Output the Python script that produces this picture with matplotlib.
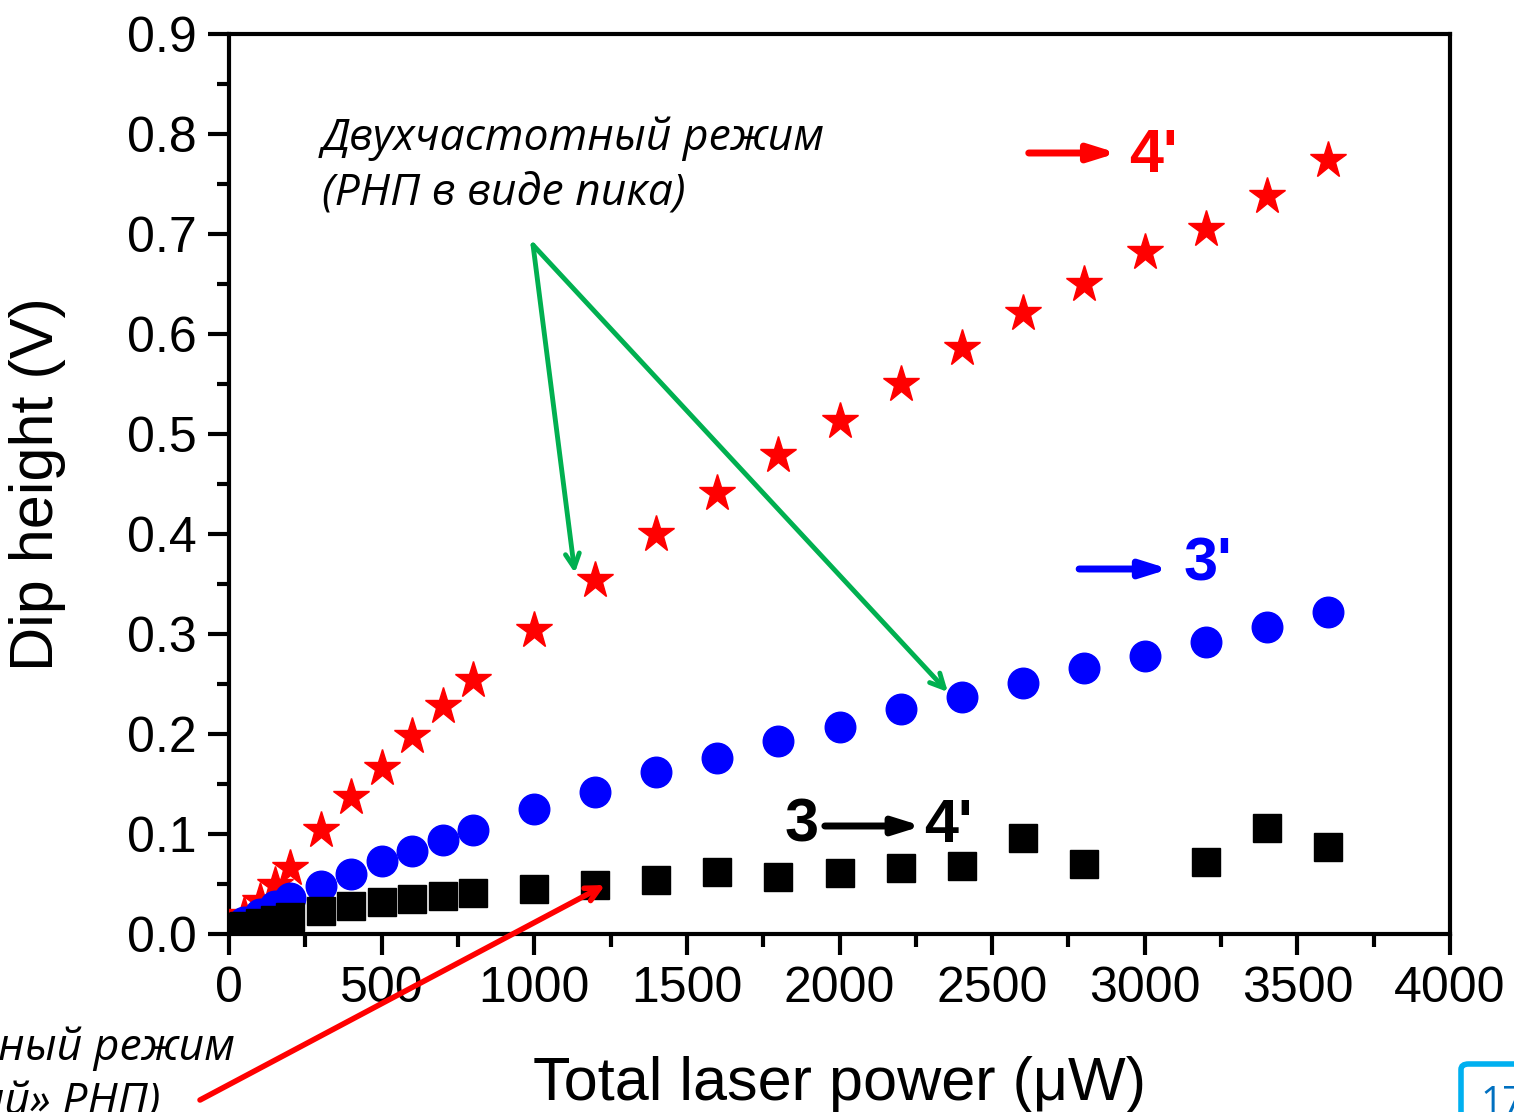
import numpy as np
import matplotlib
matplotlib.use("Agg")
import matplotlib.pyplot as plt
from matplotlib.patches import FancyBboxPatch
from matplotlib.ticker import MultipleLocator

# data
power_star = [50, 100, 150, 200, 300, 400, 500, 600, 700, 800, 1000, 1200, 1400,
              1600, 1800, 2000, 2200, 2400, 2600, 2800, 3000, 3200, 3400, 3600]
dip_star = [0.019, 0.033, 0.049, 0.066, 0.104, 0.137, 0.166, 0.198, 0.228, 0.254,
            0.304, 0.354, 0.400, 0.441, 0.479, 0.513, 0.550, 0.586, 0.621, 0.650,
            0.682, 0.705, 0.738, 0.774]

power_circ = [50, 100, 150, 200, 300, 400, 500, 600, 700, 800, 1000, 1200, 1400,
              1600, 1800, 2000, 2200, 2400, 2600, 2800, 3000, 3200, 3400, 3600]
dip_circ = [0.012, 0.020, 0.028, 0.036, 0.048, 0.060, 0.073, 0.083, 0.094, 0.104,
            0.125, 0.142, 0.162, 0.176, 0.193, 0.207, 0.225, 0.237, 0.251, 0.266,
            0.278, 0.292, 0.307, 0.322]

power_sq = [20, 50, 100, 150, 200, 300, 400, 500, 600, 700, 800, 1000, 1200, 1400,
            1600, 1800, 2000, 2200, 2400, 2600, 2800, 3200, 3400, 3600]
dip_sq = [0.006, 0.008, 0.011, 0.014, 0.017, 0.023, 0.028, 0.032, 0.035, 0.038,
          0.041, 0.045, 0.049, 0.054, 0.062, 0.057, 0.061, 0.066, 0.068, 0.096,
          0.070, 0.072, 0.106, 0.087]

W, H = 1514, 1112
fig = plt.figure(figsize=(W / 100, H / 100), dpi=100)
ax = fig.add_axes([229 / W, 1 - 934 / H, (1450 - 229) / W, (934 - 34) / H])

ax.plot(power_star, dip_star, ls='none', marker='*', ms=28, color='#ff0000', mec='#ff0000', zorder=3)
ax.plot(power_circ, dip_circ, ls='none', marker='o', ms=22, color='#0000ff', mec='#0000ff', zorder=4)
ax.plot(power_sq, dip_sq, ls='none', marker='s', ms=20, color='black', mec='black', zorder=5)

ax.set_xlim(0, 4000)
ax.set_ylim(0, 0.9)
ax.xaxis.set_major_locator(MultipleLocator(500))
ax.xaxis.set_minor_locator(MultipleLocator(250))
ax.yaxis.set_major_locator(MultipleLocator(0.1))
ax.yaxis.set_minor_locator(MultipleLocator(0.05))
ax.yaxis.set_major_formatter(matplotlib.ticker.FormatStrFormatter('%.1f'))

for s in ax.spines.values():
    s.set_linewidth(3)
ax.tick_params(which='both', direction='out', width=3, top=False, right=False)
ax.tick_params(which='major', length=15, pad=8)
ax.tick_params(which='minor', length=9)
for lab in ax.get_xticklabels() + ax.get_yticklabels():
    lab.set_fontfamily('Liberation Sans')
    lab.set_fontsize(36)

ax.set_xlabel('Total laser power (\u03bcW)', fontsize=44, family='Liberation Sans', labelpad=32)
ax.set_ylabel('Dip height (V)', fontsize=44, family='Liberation Sans', labelpad=44)

# level labels with arrows
bold = dict(family='Liberation Sans', weight='bold', fontsize=44, va='center', ha='left')
head = '-|>,head_length=1.6,head_width=0.5'
ax.annotate('', xy=(2910, 0.781), xytext=(2620, 0.781),
            arrowprops=dict(arrowstyle=head, color='#ff0000', lw=5, shrinkA=0, shrinkB=0))
ax.text(2950, 0.777, "4'", color='#ff0000', **bold)
ax.annotate('', xy=(3080, 0.365), xytext=(2785, 0.365),
            arrowprops=dict(arrowstyle=head, color='#0000ff', lw=5, shrinkA=0, shrinkB=0))
ax.text(3128, 0.369, "3'", color='#0000ff', **bold)
ax.text(1820, 0.108, "3", color='black', **bold)
ax.annotate('', xy=(2270, 0.108), xytext=(1952, 0.108),
            arrowprops=dict(arrowstyle=head, color='black', lw=5, shrinkA=0, shrinkB=0))
ax.text(2278, 0.108, "4'", color='black', **bold)

# russian annotations
ital = dict(family='Open Sans', style='italic', fontsize=32, color='black')
fig.text(322 / W, 1 - 150 / H, 'Двухчастотный режим', **ital)
fig.text(322 / W, 1 - 205 / H, '(РНП в виде пика)', **ital)

green = '#00b050'
for tgt in [(1133, 0.361), (2355, 0.242)]:
    ax.annotate('', xy=tgt, xytext=(996, 0.689),
                arrowprops=dict(arrowstyle='->,head_length=1.0,head_width=0.5', color=green, lw=3.5,
                                shrinkA=0, shrinkB=0), annotation_clip=False, zorder=6)

ax.annotate('', xy=(1232, 0.049), xytext=(200, H - 1100), textcoords='figure pixels',
            arrowprops=dict(arrowstyle='->,head_length=1.0,head_width=0.5', color='#ff0000', lw=4,
                            shrinkA=0, shrinkB=0), annotation_clip=False, zorder=6)

fig.text(235 / W, 1 - 1060 / H, 'Одночастотный режим', ha='right', **ital)
fig.text(160 / W, 1 - 1114 / H, '(«провальный» РНП)', ha='right', va='baseline', **ital)

# slide number box at the corner
box = FancyBboxPatch((1461 / W, 1 - 1150 / H), 100 / W, 86 / H,
                     boxstyle='round,pad=0,rounding_size=0.005', transform=fig.transFigure,
                     fc='white', ec='#00b0f0', lw=4)
fig.patches.append(box)
fig.text(1480 / W, 1 - 1114 / H, '17', fontsize=28, color='#0070c0', family='Open Sans', va='baseline')

fig.savefig('out.png', dpi=100)
